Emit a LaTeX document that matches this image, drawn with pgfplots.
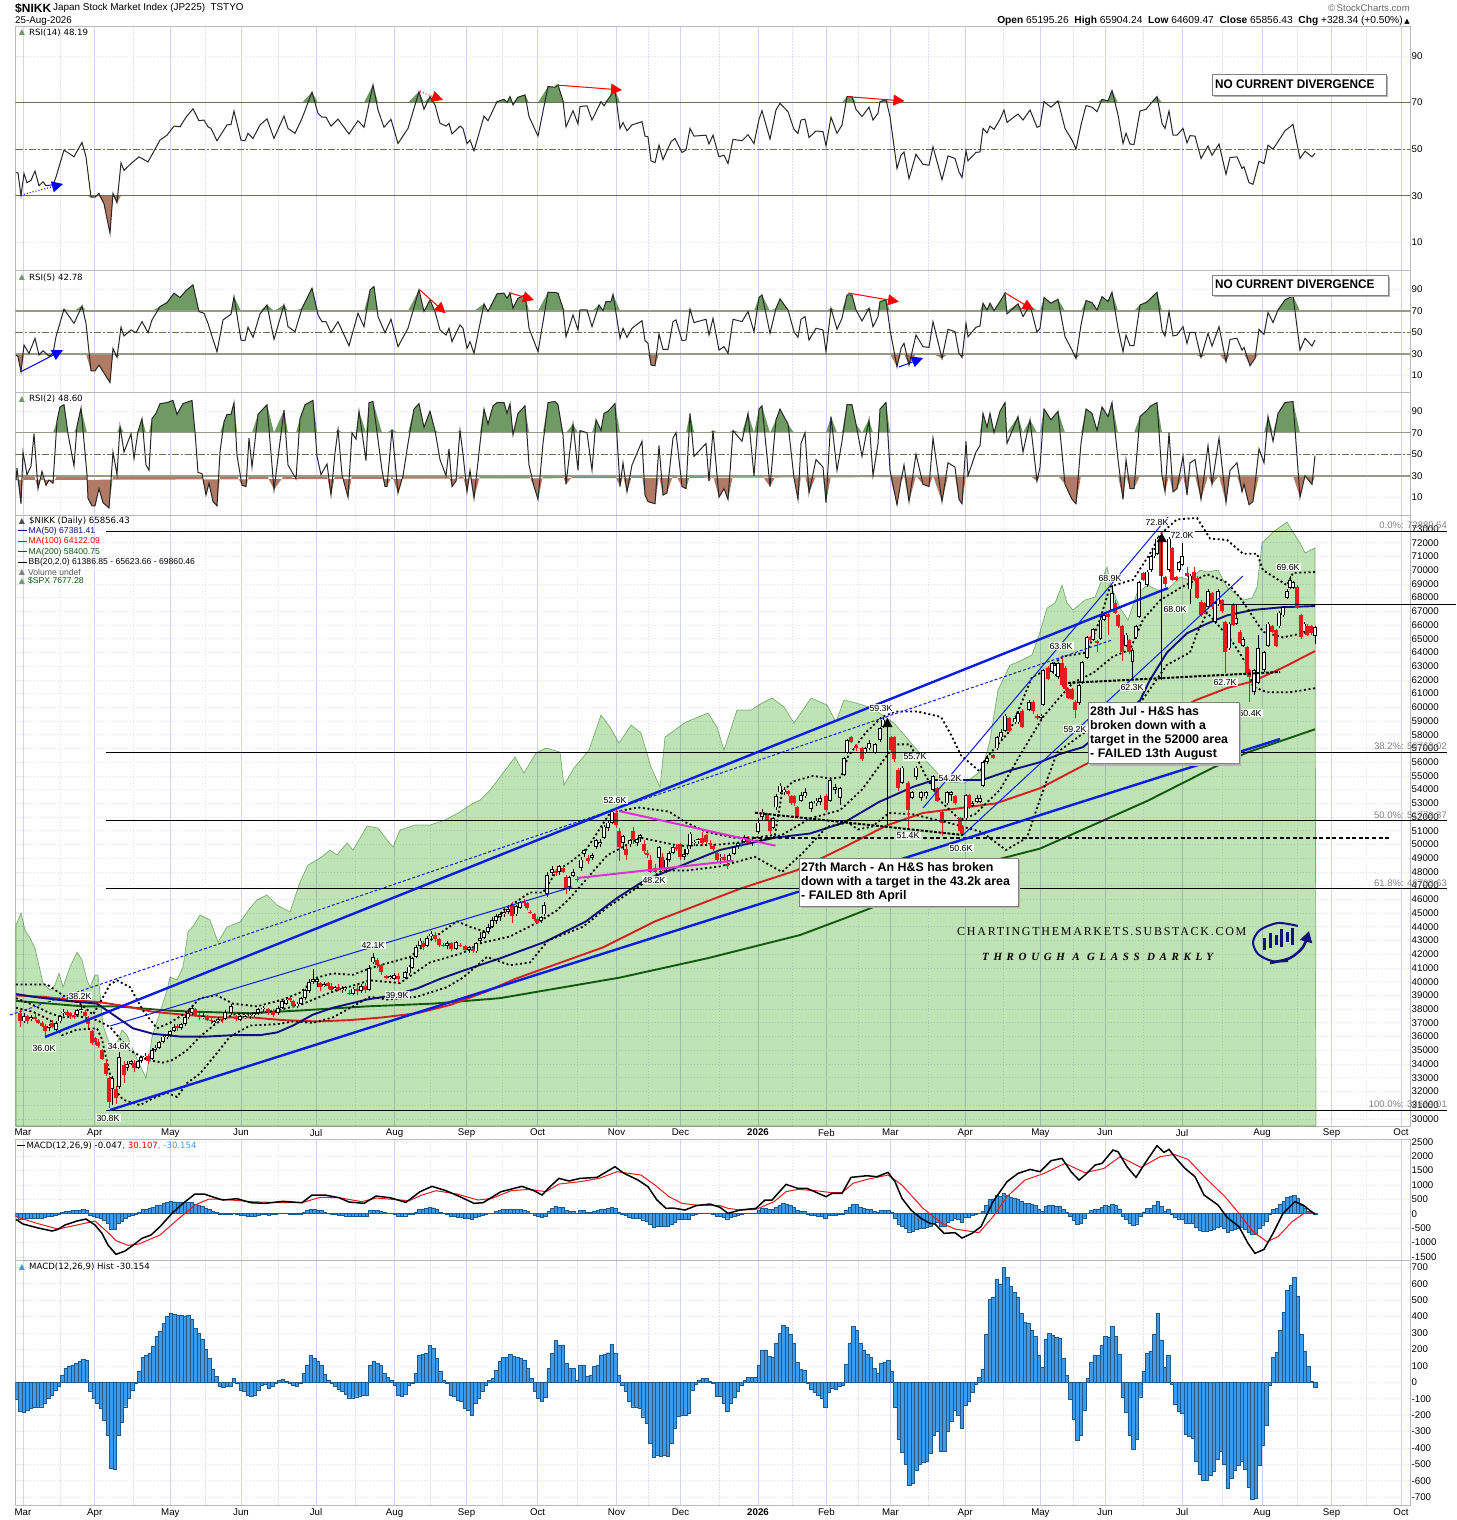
\documentclass[border=0pt]{standalone}
\usepackage{fontspec}
\setmainfont{Liberation Sans}
\newfontfamily\djv{DejaVu Sans}
\newfontfamily\serw{Liberation Serif}
\usepackage{pgfplots}
\pgfplotsset{compat=1.18}
\usepackage{pgfplotstable}
\usetikzlibrary{arrows.meta}
\definecolor{gridl}{HTML}{D2D2F6}
\definecolor{gridd}{HTML}{DEDEF4}
\definecolor{olv}{HTML}{6B7050}
\definecolor{rsig}{HTML}{6F9A63}
\definecolor{rsib}{HTML}{B07A65}
\definecolor{spx}{HTML}{BFE3B4}
\definecolor{spxe}{HTML}{8DBB88}
\definecolor{histb}{HTML}{3F9BE8}
\definecolor{histd}{HTML}{1A5A90}
\definecolor{tl}{HTML}{0A1EE0}
\definecolor{ma5}{HTML}{101080}
\definecolor{ma1}{HTML}{D62020}
\definecolor{ma2}{HTML}{0F5A0F}
\definecolor{cred}{HTML}{E8191C}
\definecolor{mag}{HTML}{E030D8}
\pgfplotsset{
 panel/.style={scale only axis,anchor=south west,xmin=15.5,xmax=1410.5,width=1395pt,
  axis line style={draw=gray!55,line width=.8pt},
  xtick={23,94.7,170.4,241,316,394.6,466.6,537.6,616.5,680.6,758,826.4,890.5,965.2,1040.4,1105,1182,1262,1331.5,1401},
  xticklabels={},
  minor xtick={60,133,205,278,355,430,502,577,648,719,792,858,928,1003,1073,1143,1222,1297,1366},
  xmajorgrids,xminorgrids,ymajorgrids,
  major x grid style={draw=gridl,line width=.9pt},
  minor x grid style={draw=gridd,line width=.7pt,dash pattern=on 1.2pt off 1.8pt},
  major y grid style={draw=gridd,line width=.7pt,dash pattern=on 1.2pt off 1.8pt},
  tick style={draw=none},minor tick style={draw=none},
  yticklabel pos=right,
  tick label style={font=\fontsize{9.7}{11}\selectfont,inner sep=0pt},
  yticklabel style={/pgf/number format/1000 sep={},/pgf/number format/assume math mode=true,anchor=west,xshift=1pt},
 },
 months/.style={xticklabels={Mar,Apr,May,Jun,Jul,Aug,Sep,Oct,Nov,Dec,\textbf{2026},Feb,Mar,Apr,May,Jun,Jul,Aug,Sep,Oct},
   xticklabel style={yshift=-3pt}},
 pxlay/.style={scale only axis,anchor=south west,at={(0pt,0pt)},width=1456pt,height=1520pt,
   xmin=0,xmax=1456,ymin=0,ymax=1520,y dir=reverse,hide axis,clip=false},
 rsiline/.style={draw=black!85,line width=1pt,no marks},
 bb/.style={draw=black,line width=1.8pt,dash pattern=on 2pt off 2.6pt,no marks},
 tlthick/.style={draw=tl,line width=2.4pt,no marks},
 tlthin/.style={draw=tl,line width=1pt,no marks},
 hl/.style={draw=black,line width=.9pt,no marks},
 bigarrow/.style={no marks,line width=1pt,-{Triangle[length=11pt,width=11pt]}},
}
\pgfplotstableread{
x v
16 40
18 39.8
21 30.1
24 39.5
27 35.6
31 36.6
35 40.6
39 34.3
43 36
46 34.3
53 34.7
56 38
64 49.6
74 46.7
82 52.9
86 46.7
91 29.4
95 29.4
99 31
104 26.5
110 13.9
113 31
117 27
121 44.1
124 40.9
131 43.8
139 46.7
148 44.5
160 53.9
167 56
174 59.9
180 59.6
186 63.7
193 67.3
199 62.2
204 62.5
208 59.6
211 58.9
217 53.6
227 60.4
231 60.6
234 66.4
241 53.9
245 53.6
248 56.8
253 54.6
260 60.4
267 63
274 54.6
284 64.2
288 58.9
295 56.8
302 63.2
312 74.5
318 65.4
322 63.7
326 63.7
331 59.9
338 62.9
349 56.5
358 62.2
364 59.4
373 77.6
378 66.8
384 59.4
391 62.8
398 52.4
408 58.9
419 74.7
424 67.1
430 72.6
435 69
440 61.1
446 59.9
449 61.1
452 56.5
460 59.9
463 58.9
467 52.4
470 53.9
474 49.3
484 64.2
488 62.2
497 70.4
504 71.4
507 70
510 72.6
513 69
518 72.3
525 73.3
529 64
538 55.6
548 76.9
555 76.6
558 77.6
563 70.7
566 59.6
573 66.5
578 60.8
580 68.3
587 68.6
592 62.5
601 70.4
604 68.6
608 71.4
615 75.5
620 58.9
623 61.4
627 57.9
632 60.4
642 61.8
645 55.6
648 55.3
651 45
655 44.2
659 51.7
663 45.5
671 53.2
675 54.6
682 48.6
686 49.6
690 58.9
694 55.6
706 56
709 52.2
713 56
719 46.7
724 47.4
728 43.8
733 54.2
742 53.6
748 56.2
754 52.4
759 62.8
762 66.5
770 54.3
776 66.8
780 69.7
788 66.1
794 58.5
798 56.8
801 62.5
805 62.9
809 55
816 57.8
823 57.5
826 51.4
831 63.7
837 56.8
842 60.4
847 72.6
852 72.6
856 67.1
862 64
869 68
873 62.5
878 65.4
880 70.4
886 71.2
890 64
897 41.7
901 47.4
904 48.8
909 37.3
916 47.8
923 43.5
929 43.1
933 51
942 36.9
948 47.1
955 46
959 40.2
962 37.8
966 49.3
968 45
976 48.6
980 48.8
983 58.9
987 57
990 59.9
994 58.5
1000 62.8
1004 66.8
1007 61.5
1018 65.1
1023 62.5
1030 66.8
1037 59.4
1040 59.9
1044 70.4
1051 68
1058 70.7
1065 58.9
1072 53.9
1076 50
1081 60.4
1086 68.7
1092 68
1097 66.1
1102 71.4
1108 70.7
1112 75.2
1118 64.7
1123 52.4
1126 56.8
1130 52.2
1134 52
1140 66.4
1146 67.1
1151 69.7
1157 72.6
1162 61.1
1165 58.9
1169 66.4
1173 56
1177 56
1183 58.9
1187 52.7
1190 55.8
1195 55.6
1201 46
1208 51.4
1212 47.4
1219 52.2
1226 39.2
1230 46.4
1237 46.7
1242 41.7
1244 42.4
1249 35.6
1253 34.9
1259 44.8
1264 43.8
1268 51.7
1273 50
1278 53.2
1285 57.9
1293 60.6
1300 46
1305 49.1
1312 46.7
1315 48.2
}\rsiA
\pgfplotstableread{
x v
16 28.8
18 27.2
21 13.1
24 38.1
29 30.3
35 44.4
39 28.8
43 32.8
49 27.8
53 30.3
56 45.9
64 71.6
74 58.4
82 74.7
86 58.4
91 14
95 14
99 19.4
110 3.1
113 35
117 26.6
121 54.7
124 46.6
131 52.2
136 49.7
142 60
148 49.7
152 61.6
160 74.1
167 77.8
174 86.6
180 82.5
186 89
193 94.4
199 69.4
204 67.8
208 58.4
211 49.1
217 31.9
223 61.6
231 66.9
234 83.4
241 42.8
245 42.2
248 54.7
253 45.3
260 67.2
267 75.6
274 43.4
284 75.6
288 55.3
295 50.6
302 72.5
312 91.3
318 66.3
322 60
326 60
331 49.7
338 60
349 37.5
358 67.8
364 55.3
370 89.7
374 92.8
378 64.7
385 49.7
391 62.2
398 36.6
408 53.8
419 89.7
424 69.4
430 80.3
435 69.4
440 52.2
446 47.5
449 53.8
452 41.3
460 56.9
463 53.8
467 35
470 41.3
474 30.3
484 76.6
488 69.4
497 86
504 86.6
507 81.9
510 86.6
513 72.5
518 81.9
525 85
529 53.8
538 31.9
548 87.5
555 87.2
558 86.6
563 72.5
566 45.9
573 66.3
578 52.2
580 70.9
587 70.9
592 55.3
599 75.6
603 70.3
606 78.8
611 78.8
613 85.5
620 44.4
623 53.8
627 45.3
632 53.8
642 60.9
645 42.2
648 39.7
651 19.4
655 18.8
659 48.5
663 34.1
668 34.1
673 60
676 61.6
682 42.2
686 42.8
690 71.6
694 59.1
706 62.2
709 47.5
713 63.1
719 33.4
724 36.6
728 30.3
733 62.2
742 60
748 69.4
754 50.6
759 82.5
762 85
770 49.1
776 72.5
780 81.2
788 70.9
794 50.6
798 45.3
801 62.2
805 64.7
809 42.8
816 53.8
823 52.2
826 31.9
831 72.5
837 52.8
842 63.1
847 85
852 85
856 70.9
862 60.6
869 72.5
873 55.3
878 64.7
880 78.8
886 80.3
890 52.2
897 17.8
901 35
904 39.7
909 19.4
916 47.5
923 36.6
929 35.9
933 60
942 25.6
948 52.8
955 50.6
959 30.3
962 26.6
966 58.4
968 45.9
976 54.7
980 55.9
983 77.2
987 70.9
990 77.2
994 70.3
1000 78.8
1005 86.6
1007 67.2
1018 76.6
1023 64.7
1030 75.6
1037 50
1040 53.8
1044 82.5
1051 77.2
1058 80.9
1065 45.9
1072 33.4
1076 25.6
1081 56.9
1086 79.7
1092 77.8
1097 70.9
1102 83.4
1108 78.8
1112 87.5
1118 53.8
1123 31.9
1126 47.5
1130 37.5
1134 37.5
1140 75.6
1146 77.8
1151 81.9
1157 87.5
1162 52.2
1165 46.6
1169 69.4
1173 46.6
1177 47.5
1183 55.3
1187 39.7
1190 50
1195 50
1201 26.6
1208 49.1
1212 37.2
1219 55.3
1226 22.5
1230 43.4
1237 44.4
1242 33.4
1244 35.9
1250 18.8
1255 25.6
1259 52.8
1264 48.1
1268 68.4
1273 59.1
1278 70.9
1285 80.3
1293 84.1
1300 33.4
1305 44.4
1312 37.2
1315 42.8
}\rsiB
\pgfplotstableread{
x v
16 26
17 37
21 4
23 52
27 31
31 39
34 69
38 18
42 34
46 21
49 26
53 23
57 81
60 94
64 96
68 69
74 39
77 76
81 93
87 31
88 9
92 2
95 2
99 18
103 5
109 0
113 52
117 31
120 76
124 52
131 69
134 46
138 71
142 83
146 40
149 35
152 83
156 88
160 97
167 98
173 100
177 87
183 97
192 100
195 71
198 33
202 32
206 12
209 23
213 6
217 2
220 52
224 80
227 87
231 87
234 98
237 49
242 21
246 20
249 65
252 38
258 87
267 96
274 17
284 91
288 40
296 27
300 83
305 96
313 100
317 48
321 31
327 41
331 12
335 51
338 73
342 31
348 10
352 70
356 64
359 90
366 44
369 98
373 99
382 35
385 20
387 20
392 73
398 14
403 30
408 60
414 92
419 97
424 75
430 90
435 72
440 45
446 30
449 55
452 20
456 25
460 72
463 50
467 15
470 35
474 9
480 60
484 92
488 78
493 95
497 98
504 98
507 88
510 97
513 68
518 88
525 95
529 40
534 20
538 8
543 60
548 98
555 99
558 96
563 68
566 22
573 78
578 35
580 72
587 70
592 35
596 82
601 72
604 88
608 90
615 97
620 20
623 42
627 15
632 40
642 62
645 12
648 6
651 5
655 4
659 58
663 12
667 14
673 65
676 70
682 20
686 18
690 88
694 48
706 60
709 25
713 72
719 10
724 18
728 8
733 72
742 62
748 88
754 30
759 92
762 95
770 20
776 82
780 92
788 78
794 28
798 8
801 60
805 70
809 14
816 45
823 38
826 5
831 85
837 35
842 62
847 96
852 96
856 78
862 48
869 82
873 30
878 60
880 92
886 98
890 35
897 3
901 25
904 40
909 6
916 50
923 22
929 20
933 65
942 6
948 42
955 38
959 8
962 4
966 62
968 30
976 52
980 58
983 88
987 75
990 88
994 70
1000 90
1005 98
1007 60
1018 85
1023 52
1030 82
1037 25
1040 38
1044 92
1051 82
1058 90
1065 22
1072 8
1076 4
1081 60
1086 92
1092 88
1097 72
1102 94
1108 85
1112 98
1118 45
1123 8
1126 45
1130 18
1134 18
1140 85
1146 90
1151 95
1157 98
1162 30
1165 15
1169 70
1173 15
1177 18
1183 48
1187 12
1190 42
1195 45
1201 8
1208 58
1212 22
1219 65
1226 5
1230 35
1237 42
1242 15
1244 22
1249 3
1253 6
1259 55
1264 42
1268 85
1273 62
1278 88
1285 98
1293 99
1300 10
1305 30
1312 22
1315 48.6
}\rsiC
\pgfplotstableread{
x o h l c
20 37.7 37.9 36.7 37.1
24 37.1 37.7 37.0 37.5
27 37.5 37.6 36.9 37.1
31 37.3 37.6 37.1 37.4
35 37.4 37.7 37.1 37.3
38 37.2 37.3 36.9 37.0
42 37.0 37.1 36.7 36.8
45 36.8 36.9 36.0 36.4
49 36.6 36.9 36.4 36.8
52 37.0 37.2 36.6 36.7
56 36.5 37.1 36.4 37.0
60 37.1 37.6 37.0 37.5
63 37.7 38.0 37.5 37.8
67 37.8 37.9 37.4 37.6
70 37.7 37.8 37.3 37.5
74 37.5 37.8 37.3 37.4
77 37.6 38.0 37.5 37.9
81 37.9 38.3 37.7 38.0
85 37.8 37.9 37.2 37.5
88 37.3 37.5 36.6 36.9
92 36.4 36.5 35.4 35.5
95 35.9 36.0 35.4 35.6
98 35.6 35.8 35.2 35.3
102 35.0 35.1 34.3 34.4
106 34.1 34.4 33.1 33.3
109 33.0 33.1 30.8 31.2
112 32.2 33.1 31.0 33.0
116 32.2 32.4 31.1 31.5
119 32.3 34.9 32.2 34.5
124 33.9 34.2 32.6 33.2
127 33.7 34.2 33.5 34.0
131 34.0 34.3 33.9 34.2
134 34.1 34.3 33.4 33.7
138 33.7 34.3 33.6 34.2
141 34.2 34.6 34.1 34.5
145 34.5 34.8 34.3 34.6
148 34.6 34.7 34.0 34.2
152 34.4 35.2 34.3 35.0
155 35.0 35.4 34.9 35.2
159 35.2 35.7 35.1 35.6
163 35.6 36.1 35.5 36.0
167 36.0 36.2 35.8 36.1
170 36.1 36.5 36.0 36.4
174 36.4 36.9 36.3 36.7
177 36.8 36.9 36.4 36.6
181 36.6 37.0 36.5 36.9
185 36.9 37.6 36.8 37.4
188 37.4 37.9 37.3 37.7
192 37.7 38.3 37.6 38.1
195 38.0 38.1 37.4 37.6
199 37.5 37.7 37.2 37.4
203 37.4 37.7 37.3 37.5
207 37.5 37.6 37.1 37.2
211 37.2 37.4 36.9 37.1
214 37.0 37.2 36.9 37.1
218 37.1 37.4 37.0 37.3
222 37.3 37.4 37.0 37.2
225 37.3 37.9 37.2 37.8
231 37.7 38.4 37.6 38.2
236 37.4 37.6 37.1 37.3
240 37.2 37.6 37.1 37.5
245 37.4 37.6 37.3 37.5
250 37.5 37.7 37.3 37.6
254 37.6 37.8 37.4 37.7
258 37.7 38.1 37.6 38.0
263 38.0 38.2 37.8 38.1
268 38.0 38.1 37.6 37.8
273 37.8 38.0 37.4 37.6
278 37.7 38.2 37.6 38.1
282 38.1 38.7 38.0 38.6
286 38.4 38.9 38.3 38.7
290 38.8 38.9 38.5 38.7
293 38.6 38.7 38.1 38.2
297 38.2 38.5 38.1 38.4
301 38.4 38.9 38.3 38.8
305 38.8 39.5 38.7 39.4
309 39.3 40.2 39.2 40.0
313 40.0 40.9 39.8 40.2
317 40.0 40.3 39.6 40.2
320 39.9 40.0 39.3 39.6
324 39.7 40.0 39.6 39.8
328 39.9 40.0 39.5 39.7
331 39.7 39.9 39.3 39.4
335 39.5 39.7 39.3 39.6
338 39.6 39.8 39.3 39.4
342 39.4 39.7 39.2 39.5
345 39.5 39.7 39.3 39.6
349 39.2 39.4 39.0 39.1
353 39.1 39.6 39.0 39.5
357 39.5 39.8 39.0 39.3
361 39.3 39.8 39.2 39.7
365 39.7 39.9 39.2 39.4
369 39.4 41.2 39.3 41.0
373 41.4 42.1 41.3 41.8
377 41.6 41.7 41.0 41.2
381 41.2 41.3 40.5 40.7
386 40.4 40.5 40.2 40.3
390 40.3 40.5 40.2 40.4
394 40.2 40.6 40.1 40.5
398 40.4 40.6 39.9 40.2
405 40.3 40.8 40.2 40.7
409 40.6 41.2 40.5 41.1
412 41.0 41.8 40.9 41.7
416 41.8 42.7 41.7 42.5
420 42.6 43.2 42.5 43.0
423 42.8 43.0 42.3 42.5
427 42.6 43.3 42.5 43.2
431 43.3 43.7 43.0 43.5
435 43.4 43.6 42.9 43.1
439 43.1 43.2 42.5 42.7
443 42.7 42.8 42.5 42.6
447 42.6 43.0 42.4 42.8
451 42.8 42.9 42.2 42.4
456 42.4 43.0 42.3 42.9
460 42.7 42.8 42.5 42.6
465 42.6 42.7 42.2 42.3
469 42.3 42.6 42.1 42.5
473 42.4 42.6 42.1 42.2
476 42.2 42.9 42.1 42.8
480 43.0 43.6 42.9 43.2
484 43.2 43.7 43.1 43.6
488 43.6 44.2 43.5 44.0
492 44.0 44.7 43.9 44.5
496 44.4 44.9 44.2 44.8
500 44.7 45.0 44.4 44.9
504 44.9 45.2 44.7 45.1
508 45.1 45.6 44.9 45.3
512 45.6 45.8 44.3 44.8
516 44.9 45.6 44.8 45.5
520 45.4 45.9 45.3 45.8
524 45.8 46.0 45.5 45.7
527 45.7 45.8 45.2 45.4
530 45.1 45.2 44.9 45.0
534 44.9 45.0 44.4 44.6
537 44.6 44.7 44.2 44.3
541 44.4 44.8 44.3 44.7
544 44.9 45.8 44.8 45.6
547 46.4 48.0 46.2 47.8
552 47.9 48.4 47.7 48.2
556 48.1 48.2 47.7 47.9
559 48.0 48.5 47.8 48.4
563 48.3 48.4 47.9 48.0
566 47.6 47.8 46.4 46.8
569 46.9 47.7 46.6 47.6
573 47.7 48.2 47.6 48.0
577 47.5 47.7 47.3 47.4
581 48.3 49.1 48.1 48.9
584 49.3 49.7 49.1 49.6
588 49.0 49.2 48.6 48.8
592 49.0 49.4 48.9 49.2
596 49.8 50.4 49.7 50.3
600 50.0 50.4 49.8 50.2
604 50.5 51.4 50.4 51.3
608 51.2 51.8 51.0 51.6
612 51.6 52.6 51.5 52.4
616 52.3 52.5 51.2 51.4
619 51.0 51.2 48.8 49.8
623 50.1 50.7 49.6 50.6
626 49.7 49.9 48.9 49.2
630 50.0 50.4 49.8 50.3
633 51.0 51.3 50.0 50.3
637 50.1 50.5 49.9 50.4
640 50.5 50.8 50.2 50.7
644 50.0 50.3 49.3 49.5
647 49.4 49.6 49.0 49.2
650 48.9 49.2 47.9 48.0
655 48.3 48.6 47.9 48.0
659 49.0 49.9 48.2 49.8
662 49.1 49.4 48.1 48.3
666 48.2 49.0 47.9 48.9
669 48.9 49.5 48.7 49.4
673 49.4 50.0 49.3 49.8
676 49.8 50.0 49.5 49.7
680 50.0 50.1 48.9 49.1
684 49.1 49.7 48.9 49.3
687 49.3 49.9 49.2 49.7
690 49.9 50.9 49.7 50.8
694 50.1 50.3 49.9 50.2
698 50.3 50.5 50.0 50.4
702 50.5 50.9 49.9 50.1
706 50.7 50.8 50.0 50.2
710 50.1 50.3 49.7 50.0
713 49.9 50.0 49.5 49.7
717 49.4 49.5 48.7 48.9
720 49.0 49.3 48.6 49.1
724 49.1 49.3 48.7 48.9
727 48.6 48.7 48.2 48.4
729 48.8 49.4 48.7 49.2
734 49.3 49.9 49.2 49.8
738 49.9 50.2 49.7 50.1
741 50.1 50.3 49.8 50.0
744 50.2 50.7 50.1 50.5
748 50.5 50.6 50.1 50.2
752 50.2 50.4 49.9 50.3
758 50.9 51.9 50.8 51.6
762 52.0 52.6 51.8 52.4
767 52.2 52.3 51.7 51.8
770 51.8 51.9 50.8 51.0
773 51.2 52.0 51.1 51.9
776 52.7 53.7 52.5 53.5
780 53.8 54.5 53.7 54.3
784 53.8 54.2 53.6 54.0
788 53.9 54.0 53.5 53.7
791 53.5 53.6 52.9 53.0
794 53.5 53.6 52.8 53.0
797 52.7 52.8 51.9 52.0
801 53.2 53.8 53.1 53.6
805 53.5 54.1 53.4 53.8
811 52.6 53.2 52.4 53.1
816 53.0 53.4 52.8 53.2
820 53.1 53.6 52.9 53.4
826 53.5 53.7 52.4 52.5
830 53.2 54.9 53.1 54.7
835 54.0 54.4 53.7 54.2
840 53.4 54.2 52.9 54.1
844 55.1 56.4 55.0 56.3
847 56.7 57.7 56.6 57.6
851 57.8 57.9 57.4 57.5
856 57.2 57.3 56.8 57.0
862 57.0 57.1 56.1 56.2
865 56.7 57.1 56.6 57.0
869 57.0 57.6 56.9 57.4
875 56.7 57.4 56.6 57.3
880 57.6 58.6 57.5 58.5
883 58.6 59.3 58.5 59.1
891 57.8 57.9 56.7 56.9
894 57.8 57.9 56.0 56.2
898 55.4 55.6 53.9 54.1
902 54.5 55.7 54.4 55.6
908 54.5 54.6 51.1 52.5
912 53.4 53.9 53.3 53.8
916 54.9 55.7 54.7 55.6
921 53.4 53.9 53.2 53.8
926 53.5 53.9 53.3 53.8
933 54.0 55.1 53.9 55.0
937 54.1 54.2 53.1 53.2
942 52.4 52.5 50.6 51.6
947 53.0 53.9 52.9 53.8
951 53.6 53.9 53.2 53.8
955 53.5 53.6 52.9 53.0
960 51.9 52.0 50.9 51.0
962 51.3 51.4 50.6 50.8
966 51.9 53.7 51.8 53.6
969 53.6 53.7 52.6 52.7
972 52.8 53.2 52.7 53.0
977 53.1 53.6 53.0 53.4
980 53.1 53.6 53.0 53.4
983 54.3 56.1 54.2 56.0
987 56.0 56.5 55.9 56.3
993 56.5 56.6 56.2 56.3
997 57.0 57.9 56.9 57.8
1001 57.8 58.4 57.7 58.2
1005 58.3 59.5 58.2 59.4
1009 59.2 59.3 58.2 58.3
1015 58.9 59.3 58.8 59.2
1018 58.9 59.7 58.8 59.6
1022 59.7 59.9 58.5 58.6
1029 59.8 60.5 59.7 60.4
1033 60.4 60.5 59.5 59.7
1037 59.4 59.5 59.1 59.2
1041 59.2 59.5 59.1 59.4
1043 60.2 62.8 60.1 62.7
1048 62.9 63.0 62.0 62.1
1052 62.6 63.3 62.5 63.2
1055 62.4 63.2 62.3 63.1
1058 62.2 63.3 62.1 63.2
1062 63.2 63.8 61.5 61.6
1065 62.9 63.0 61.2 61.3
1068 61.3 61.4 60.6 60.7
1072 61.3 61.4 60.5 60.6
1075 60.4 60.5 59.2 59.8
1079 60.3 61.7 60.2 61.6
1082 61.8 63.4 61.7 63.3
1087 63.6 65.2 63.5 65.1
1090 65.1 65.2 64.8 64.9
1093 64.9 65.8 64.8 65.7
1097 64.8 64.9 64.0 64.7
1100.6 65.0 66.5 64.9 66.4
1104 66.4 66.9 66.3 66.7
1108 66.8 66.9 65.3 66.6
1112 67.1 68.9 67.0 68.3
1115 67.6 67.8 66.8 66.9
1118 66.7 66.8 65.8 65.9
1122 65.9 66.0 63.4 64.0
1126 64.5 65.4 64.4 65.3
1129 64.9 65.0 63.9 64.0
1132.6 63.3 64.3 62.0 64.2
1136 65.1 66.0 65.0 65.9
1139 66.6 69.2 66.5 69.1
1143 69.8 69.9 69.2 69.3
1147 68.9 70.0 68.8 69.9
1151 70.0 71.1 69.9 71.0
1154 71.0 71.6 70.9 71.5
1157 71.2 72.4 71.1 72.3
1161 72.2 72.8 69.3 69.6
1165 69.5 69.6 68.8 69.0
1169 70.0 72.4 69.9 72.3
1172 71.6 71.7 69.2 69.3
1176 69.5 69.6 69.2 69.3
1179 70.0 70.7 69.9 70.6
1182 70.4 72.0 70.3 71.0
1187 69.8 70.2 69.5 69.6
1190 68.6 69.7 67.5 69.6
1194 69.9 70.2 69.2 69.3
1197 69.4 69.6 67.9 68.0
1201 67.7 67.8 66.6 66.7
1204 67.6 67.7 66.8 66.9
1208 67.3 68.6 67.2 68.5
1212 68.3 68.4 67.2 67.3
1215 66.2 67.7 66.1 67.6
1218 67.5 68.6 67.4 68.5
1222 67.8 67.9 66.9 67.0
1225 66.2 66.3 62.5 64.0
1229 64.3 66.2 64.2 66.1
1233 67.5 67.6 65.9 66.0
1236 66.1 67.5 66.0 66.5
1240 65.5 65.6 64.6 64.7
1243 64.5 65.1 64.4 65.0
1247 64.4 64.5 62.4 62.5
1249 62.7 62.8 60.4 62.2
1254 61.1 62.8 60.9 62.7
1258 61.8 65.3 61.7 64.3
1264 62.7 64.1 62.6 64.0
1268 64.5 66.2 64.4 66.1
1272 65.9 66.0 65.4 65.5
1276 65.6 65.7 64.4 64.5
1279 65.9 67.0 65.8 66.9
1283 66.7 67.4 66.6 67.3
1287 68.0 68.6 67.9 68.5
1290 68.7 69.6 68.6 69.3
1293 68.7 69.2 68.6 69.1
1297 68.8 68.9 67.2 67.3
1301 66.7 66.8 65.0 65.1
1304 65.5 66.2 65.4 66.1
1307 65.9 66.1 65.2 65.3
1311 65.9 66.0 65.3 65.4
1315 65.2 65.9 64.6 65.86
}\candles
\pgfplotstableread[header=false]{
-104
-175
-181
-170
-160
-153
-153
-149
-128
-100
-77
-50
-26
45
85
100
106
115
126
140
136
-57
-100
-128
-159
-230
-321
-525
-531
-325
-246
-149
-100
-47
-6
65
153
167
177
218
279
309
360
401
419
415
407
411
405
411
385
330
300
265
200
147
81
35
-26
-30
-26
-26
24
-6
-47
-57
-77
-83
-77
-47
-16
-14
-37
-26
-6
10
18
8
-6
-20
-26
-6
55
106
163
147
130
106
51
14
-6
-26
-45
-57
-70
-94
-94
-88
-82
-80
-77
106
130
115
102
55
30
14
-16
-77
-83
-70
-20
-5
55
167
170
177
224
208
147
65
10
-6
-77
-83
-108
-118
-159
-173
-199
-128
-100
-57
-16
10
24
75
126
153
153
171
157
151
147
136
85
24
-57
-98
-118
-90
85
177
254
228
228
116
85
85
14
106
106
35
45
96
106
167
170
180
232
177
45
-16
-57
-118
-149
-153
-160
-210
-250
-372
-458
-444
-450
-444
-450
-372
-281
-205
-203
-199
-190
-51
-10
14
24
24
4
-6
-87
-87
-128
-175
-130
-90
-57
-20
10
31
28
30
106
193
198
160
150
238
300
350
335
290
240
120
78
71
-6
-40
-60
-80
-100
-153
-60
-37
-40
-25
-16
112
240
340
315
240
197
170
150
85
55
116
125
136
65
-150
-348
-429
-500
-627
-617
-535
-500
-490
-480
-433
-320
-301
-419
-419
-301
-240
-170
-200
-281
-138
-115
-60
-10
30
79
295
507
520
625
600
702
640
588
549
520
421
364
358
320
279
167
90
260
299
285
272
269
147
41
-104
-226
-352
-320
-169
24
122
167
165
224
279
275
344
279
173
-92
-185
-322
-409
-348
-88
65
177
190
295
421
258
92
163
-10
-132
-175
-189
-315
-330
-338
-480
-560
-596
-596
-566
-540
-470
-419
-500
-643
-586
-535
-505
-480
-530
-640
-714
-708
-505
-383
-260
-16
150
181
320
425
560
594
641
527
295
187
96
4
-30
}\hist
\newcommand\lbl[3]{\node[fill=white,fill opacity=.85,text opacity=1,inner sep=1pt,font=\fontsize{8.8}{10}\selectfont] at (axis cs:#1,#2) {#3};}
\newcommand\fib[2]{\node[anchor=east,inner sep=0pt,text=gray,font=\fontsize{9.5}{11}\selectfont] at (axis cs:1447,#1) {#2};}
\newcommand\ttl[3]{\node[anchor=west,inner sep=0pt,font=\djv\fontsize{8.6}{10}\selectfont] at (axis cs:#1,#2) {#3};}
\newcommand\ico[3]{\node[inner sep=0pt,text=#3,font=\djv\fontsize{8}{9}\selectfont] at (axis cs:#1,#2) {▲};}
\begin{document}
\begin{tikzpicture}
\path[use as bounding box] (0,0) rectangle (1456pt,1520pt);
% ---------- RSI 14
\begin{axis}[panel,at={(15.5pt,1249.3pt)},height=244pt,ymin=-2.2,ymax=102.6,ytick={10,30,50,70,90}]
\addplot[fill=rsig,draw=none,no marks,restrict y to domain*=70:200] table[x=x,y=v]{\rsiA};
\addplot[fill=rsib,draw=none,no marks,restrict y to domain*=-20:30] table[x=x,y=v]{\rsiA};
\addplot[olv,line width=1.5pt,no marks] coordinates {(15.5,70)(1410.5,70)};
\addplot[olv,line width=1.5pt,no marks] coordinates {(15.5,30)(1410.5,30)};
\addplot[olv,line width=1pt,no marks,dash pattern=on 7pt off 2pt on 2pt off 2pt] coordinates {(15.5,50)(1410.5,50)};
\addplot[rsiline] table[x=x,y=v]{\rsiA};
\end{axis}
% ---------- RSI 5
\begin{axis}[panel,at={(15.5pt,1127.3pt)},height=122pt,ymin=-6.4,ymax=107.6,ytick={10,30,50,70,90}]
\addplot[fill=rsig,draw=none,no marks,restrict y to domain*=70:200] table[x=x,y=v]{\rsiB};
\addplot[fill=rsib,draw=none,no marks,restrict y to domain*=-20:30] table[x=x,y=v]{\rsiB};
\addplot[olv!70,line width=1.6pt,no marks] coordinates {(15.5,70)(1410.5,70)};
\addplot[olv!70,line width=1.6pt,no marks] coordinates {(15.5,30)(1410.5,30)};
\addplot[olv,line width=1pt,no marks,dash pattern=on 7pt off 2pt on 2pt off 2pt] coordinates {(15.5,50)(1410.5,50)};
\addplot[rsiline] table[x=x,y=v]{\rsiB};
\end{axis}
% ---------- RSI 2
\begin{axis}[panel,at={(15.5pt,1005pt)},height=122.3pt,ymin=-6.5,ymax=107.2,ytick={10,30,50,70,90}]
\addplot[fill=rsig,draw=none,no marks,restrict y to domain*=70:200] table[x=x,y=v]{\rsiC};
\addplot[fill=rsib,draw=none,no marks,restrict y to domain*=-20:30] table[x=x,y=v]{\rsiC};
\addplot[olv!70,line width=1.6pt,no marks] coordinates {(15.5,70)(1410.5,70)};
\addplot[olv!70,line width=1.6pt,no marks] coordinates {(15.5,30)(1410.5,30)};
\addplot[olv,line width=1pt,no marks,dash pattern=on 7pt off 2pt on 2pt off 2pt] coordinates {(15.5,50)(1410.5,50)};
\addplot[rsiline] table[x=x,y=v]{\rsiC};
\end{axis}
% ---------- MAIN frame and scale
\begin{axis}[panel,months,at={(15.5pt,394pt)},height=611pt,ymin=29.48,ymax=74.02,
  ytick={30,31,...,73},yticklabels={30000,31000,32000,33000,34000,35000,36000,37000,38000,39000,40000,41000,42000,43000,44000,45000,46000,47000,48000,49000,50000,51000,52000,53000,54000,55000,56000,57000,58000,59000,60000,61000,62000,63000,64000,65000,66000,67000,68000,69000,70000,71000,72000,73000}]
\addplot[draw=none,no marks,forget plot] coordinates {(100,40)};
\end{axis}
% ---------- SPX overlay
\begin{axis}[pxlay]
\addplot[fill=spx,draw=spxe,line width=.7pt,no marks,blend mode=multiply] coordinates {
(16,925)(21,913)(25,930)(30,938)(35,948)(43,983)(50,990)(55,985)(59,973)(63,987)(70,967)(77,952)(82,960)(87,980)(90,987)(95,975)(98,975)(100,993)(103,1025)(107,1037)(112,1050)(117,1043)(122,1030)(127,1035)(133,1050)(140,1065)(146,1078)(152,1037)(160,1012)(167,990)(170,977)(177,980)(183,967)(188,932)(194,925)(200,915)(210,920)(218,942)(227,927)(240,922)(250,908)(257,900)(267,895)(277,905)(290,912)(300,882)(308,865)(320,858)(330,850)(337,855)(347,843)(353,850)(363,833)(367,826)(378,828)(387,840)(393,847)(400,830)(415,825)(430,825)(445,820)(460,812)(470,805)(480,800)(490,790)(500,777)(515,757)(524,773)(536,753)(546,748)(560,752)(564,785)(574,768)(589,750)(601,715)(610,727)(619,743)(631,725)(641,733)(651,767)(660,787)(665,737)(686,722)(708,713)(717,727)(724,750)(737,710)(751,710)(762,703)(772,698)(784,707)(794,723)(811,698)(827,705)(836,722)(844,700)(856,703)(872,708)(894,723)(906,737)(917,750)(930,765)(941,777)(948,782)(965,783)(982,770)(990,740)(998,690)(1010,665)(1018,662)(1032,655)(1040,632)(1047,608)(1055,603)(1062,585)(1067,603)(1073,610)(1085,600)(1095,597)(1107,567)(1112,588)(1120,608)(1128,620)(1137,593)(1148,585)(1157,590)(1167,590)(1180,577)(1190,580)(1200,570)(1207,572)(1218,570)(1227,587)(1243,600)(1252,598)(1257,587)(1262,543)(1273,532)(1287,522)(1293,532)(1300,543)(1305,553)(1315,548)(1316,1126)(16,1126)} --cycle;
\end{axis}
% ---------- Price series
\begin{axis}[scale only axis,anchor=south west,at={(15.5pt,394pt)},width=1395pt,height=611pt,
  xmin=15.5,xmax=1410.5,ymin=29.48,ymax=74.02,hide axis]
\addplot[ma2,line width=1.9pt,no marks] coordinates {(16,38.6)(50,38.4)(83,38.2)(117,38.2)(167,37.9)(200,37.8)(250,37.7)(300,37.9)(367,38.2)(433,38.4)(500,38.8)(620,40.3)(707,41.7)(800,43.4)(844,44.6)(872,45.4)(965,48.3)(1040,49.7)(1148,53.2)(1213,55.6)(1247,56.7)(1315,58.4)};
\addplot[ma1,line width=1.9pt,no marks] coordinates {(16,39)(43,38.9)(67,38.7)(100,38.5)(127,38.2)(153,37.8)(183,37.6)(217,37.4)(250,37.4)(283,37.2)(317,37.1)(350,37.2)(383,37.4)(417,37.7)(450,38.3)(487,39.3)(515,40.2)(603,42.5)(655,44.4)(741,46.8)(796,48.1)(844,49.8)(887,51.4)(923,52.3)(965,52.7)(996,53)(1040,54.1)(1087,55.9)(1195,60.5)(1227,61.4)(1253,61.9)(1283,62.9)(1315,64.1)};
\addplot[ma5,line width=1.9pt,no marks] coordinates {(16,39.1)(33,38.9)(67,38.6)(97,38.4)(113,37.6)(133,36.6)(153,36.2)(180,36)(207,36)(233,36.1)(260,36.1)(277,36.3)(293,36.8)(313,37.6)(333,38.1)(367,38.7)(393,39)(417,39.5)(440,40.2)(467,40.9)(500,41.7)(545,42.9)(586,44.4)(617,46.1)(645,47.4)(720,49.6)(775,50.5)(810,50.8)(844,51.6)(879,53.1)(913,54.2)(934,54.7)(965,54.7)(982,54.7)(1010,55.4)(1040,56)(1060,56.6)(1083,57.1)(1140,60.5)(1150,62)(1167,64)(1187,65.4)(1207,66.1)(1227,66.7)(1253,67.1)(1283,67.3)(1315,67.38)};
\addplot[bb] coordinates {(16,39.8)(47,39.8)(63,39)(80,38.4)(93,37.6)(101,38.6)(110,39.8)(117,40.1)(130,39.6)(143,37.9)(157,36.6)(170,37)(187,37.8)(200,38.8)(217,39)(233,38.4)(257,38.2)(283,38.7)(300,39.2)(317,40.3)(333,40.6)(353,40.5)(367,40.9)(380,41.2)(410,41.8)(430,43)(457,44.4)(470,44)(487,43.6)(503,45.2)(530,46.5)(543,46.5)(557,48.1)(570,48.7)(586,49.6)(610,52.3)(638,52.7)(669,52.4)(686,51.6)(707,50.9)(734,50.5)(755,50.5)(775,50.7)(782,53.8)(793,54.6)(813,55)(831,54.8)(841,54.9)(848,56.4)(865,58.1)(882,59.3)(896,59.7)(917,59.7)(941,59.3)(951,58)(961,56.5)(980,55.3)(985,56.2)(1010,58.3)(1032,62.2)(1043,62.6)(1063,63.7)(1087,64)(1100,66.4)(1110,68.8)(1133,69.3)(1150,71.2)(1160,72.6)(1177,73.7)(1197,73.8)(1210,72.3)(1227,72.2)(1243,71.2)(1257,71.2)(1263,70)(1287,68.9)(1293,69.8)(1315,69.86)};
\addplot[bb] coordinates {(16,38.8)(33,38.3)(50,37.7)(63,37.4)(77,37.5)(97,37.2)(110,36.7)(130,35)(147,34.3)(163,34.1)(173,34.3)(187,35)(200,36)(217,37)(233,37.6)(257,37.7)(277,37.9)(300,38.3)(330,39.2)(370,40.1)(400,39.9)(430,41.4)(463,42.1)(480,42.8)(510,43.3)(537,44.3)(557,45.2)(570,46.1)(607,49.2)(640,50.5)(680,49.9)(720,50)(760,50.3)(782,50.7)(810,51.9)(840,52.5)(862,54)(880,55.8)(895,57.3)(910,57.3)(925,55.1)(940,53.2)(960,51.8)(975,52.2)(1000,54)(1020,56.5)(1043,59.3)(1057,60.5)(1073,61.8)(1093,62.5)(1113,63.7)(1130,64.2)(1143,66.4)(1160,67.8)(1180,68.7)(1207,69.7)(1227,69.1)(1240,68)(1253,66.6)(1263,65.5)(1283,65.1)(1315,65.6)};
\addplot[bb] coordinates {(16,38.1)(33,37.8)(50,37.2)(62,36.1)(77,36.5)(97,36.6)(102,35.8)(105,34.8)(113,32.3)(123,31.4)(140,31)(153,31.5)(167,31.9)(177,31.6)(187,32.6)(200,33.3)(217,34.8)(230,36)(250,36.8)(277,36.9)(293,37.1)(313,37)(333,37.4)(353,38.2)(370,38.9)(387,38.7)(417,38.9)(447,39.6)(463,40.3)(487,41.8)(510,41.2)(530,41.4)(548,43)(583,44)(607,45.4)(638,46.9)(662,48.1)(686,48.1)(720,48.4)(755,49.1)(782,48)(803,49.4)(827,51.3)(848,51.6)(858,51.1)(872,51.3)(889,52.3)(913,52.2)(930,51.9)(948,51.6)(982,50.9)(1006,49.6)(1027,50.5)(1040,53.3)(1057,56.7)(1083,58.1)(1140,60.3)(1167,63.1)(1190,64)(1197,65.4)(1207,66.9)(1217,66.1)(1233,64.7)(1247,63.1)(1253,61.5)(1267,61.1)(1290,61.1)(1315,61.39)};
% candles: wicks, then bodies
\addplot[draw=none,no marks,error bars/.cd,y dir=plus,y explicit,error mark=none,error bar style={black,line width=.8pt}]
 table[x=x,y expr={\thisrow{c}>=\thisrow{o}?\thisrow{l}:nan},y error plus expr=\thisrow{h}-\thisrow{l}]{\candles};
\addplot[draw=none,no marks,error bars/.cd,y dir=plus,y explicit,error mark=none,error bar style={cred,line width=.8pt}]
 table[x=x,y expr={\thisrow{c}<\thisrow{o}?\thisrow{l}:nan},y error plus expr=\thisrow{h}-\thisrow{l}]{\candles};
\addplot[draw=none,no marks,error bars/.cd,y dir=plus,y explicit,error mark=none,error bar style={black,line width=3.3pt}]
 table[x=x,y expr={\thisrow{c}>=\thisrow{o}?\thisrow{o}:nan},y error plus expr=\thisrow{c}-\thisrow{o}]{\candles};
\addplot[draw=none,no marks,error bars/.cd,y dir=plus,y explicit,error mark=none,error bar style={white,line width=1.5pt}]
 table[x=x,y expr={\thisrow{c}>=\thisrow{o}?\thisrow{o}+0.06:nan},y error plus expr=\thisrow{c}-\thisrow{o}-0.12]{\candles};
\addplot[draw=none,no marks,error bars/.cd,y dir=plus,y explicit,error mark=none,error bar style={cred,line width=3.2pt}]
 table[x=x,y expr={\thisrow{c}<\thisrow{o}?\thisrow{c}:nan},y error plus expr=\thisrow{o}-\thisrow{c}]{\candles};
\end{axis}
% ---------- MACD
\begin{axis}[panel,at={(15.5pt,260pt)},height=121pt,ymin=-1608,ymax=2594,ytick={-1500,-1000,...,2500}]
\addplot[ybar,bar width=3.5pt,bar shift=0pt,fill=histb,draw=histd,line width=.4pt] table[x expr=16.5+3.5*\coordindex,y index=0]{\hist};
\addplot[cred,line width=1pt,no marks] coordinates {(16,-104)(37,-336)(58,-532)(77,-393)(95,-255)(107,-625)(116,-937)(128,-1099)(139,-1053)(160,-740)(179,-162)(195,301)(209,509)(223,497)(251,417)(279,382)(302,382)(320,567)(339,555)(362,417)(376,544)(409,451)(422,648)(436,798)(457,683)(478,474)(492,532)(511,798)(529,845)(546,764)(559,1030)(580,1111)(599,1226)(617,1458)(641,1342)(655,995)(669,590)(682,359)(696,301)(720,278)(728,185)(740,127)(756,150)(774,417)(786,764)(798,845)(816,798)(832,729)(842,729)(853,1053)(867,1192)(888,1342)(902,995)(923,185)(942,-336)(955,-532)(979,-659)(993,-104)(1007,590)(1025,1169)(1044,1400)(1065,1747)(1085,1423)(1104,1574)(1120,1978)(1141,1608)(1160,1978)(1174,2059)(1188,1886)(1206,1226)(1225,590)(1239,12)(1253,-625)(1267,-972)(1278,-798)(1292,-278)(1304,12)(1315,30)};
\addplot[black,line width=1.5pt,no marks] coordinates {(16,-197)(23,-359)(37,-486)(52,-602)(58,-544)(65,-393)(77,-255)(86,-185)(95,-393)(102,-683)(108,-1088)(116,-1412)(125,-1296)(132,-1122)(142,-856)(151,-740)(160,-451)(172,12)(183,359)(195,683)(204,683)(214,567)(223,474)(237,521)(251,382)(265,359)(283,428)(302,382)(312,648)(325,648)(339,555)(349,405)(364,359)(376,613)(390,555)(406,393)(420,764)(432,949)(446,798)(460,590)(474,359)(483,382)(501,764)(522,949)(534,798)(542,648)(550,937)(559,1226)(569,1134)(580,1226)(597,1261)(615,1631)(624,1400)(638,1169)(648,937)(657,474)(666,185)(673,197)(685,127)(696,278)(710,336)(720,220)(728,12)(740,127)(756,185)(765,474)(772,474)(786,1018)(798,879)(807,879)(826,590)(832,706)(842,706)(851,1261)(867,1319)(877,1284)(888,1435)(895,1111)(902,532)(911,127)(921,-162)(930,-336)(935,-359)(944,-683)(955,-659)(962,-845)(972,-683)(981,-451)(993,417)(1007,1111)(1018,1400)(1030,1539)(1040,1458)(1051,1840)(1062,1921)(1071,1458)(1079,1169)(1085,1342)(1095,1689)(1102,1747)(1113,2210)(1118,2152)(1127,1631)(1136,1261)(1146,1805)(1157,2360)(1164,2129)(1169,2233)(1176,1921)(1185,1574)(1195,1284)(1204,648)(1218,301)(1227,-127)(1239,-451)(1248,-1030)(1255,-1377)(1264,-1238)(1273,-683)(1283,12)(1295,417)(1303,301)(1315,-23)};
\end{axis}
% ---------- MACD histogram
\begin{axis}[panel,months,at={(15.5pt,14.3pt)},height=245.7pt,ymin=-752,ymax=745,ytick={-700,-600,...,700}]
\addplot[ybar,bar width=3.5pt,bar shift=0pt,fill=histb,draw=histd,line width=.4pt] table[x expr=16.5+3.5*\coordindex,y index=0]{\hist};
\end{axis}
% ---------- annotations in picture pixels
\begin{axis}[pxlay]
\addplot[hl] coordinates {(106,531)(1447,531)};
\addplot[hl] coordinates {(1222,604)(1456,604)};
\addplot[hl] coordinates {(106,752)(1447,752)};
\addplot[hl] coordinates {(106,820.7)(1447,820.7)};
\addplot[hl] coordinates {(106,888.7)(1447,888.7)};
\addplot[hl] coordinates {(106,1110)(1447,1110)};
\addplot[draw=black,line width=1.7pt,no marks,dash pattern=on 4pt off 2.6pt] coordinates {(745,837.7)(1390,837.7)};
\addplot[tlthick] coordinates {(110,1110)(1280,739)};
\addplot[tlthick] coordinates {(45,1037)(1168,588)};
\addplot[tlthin,dash pattern=on 3pt off 2pt] coordinates {(10,1015)(1112,640)};
\addplot[tlthin] coordinates {(110,1026)(572,887)};
\addplot[tlthin] coordinates {(923,808)(1168,517)};
\addplot[tlthin] coordinates {(963,835)(1243,576)};
\addplot[mag,line width=2pt,no marks] coordinates {(619,811)(775.5,845.7)};
\addplot[mag,line width=2pt,no marks] coordinates {(577.5,878)(733.5,860.7)};
\addplot[draw=black,line width=2pt,no marks,dash pattern=on 3pt off 1.5pt] coordinates {(755,812.7)(963,835)};
\addplot[draw=black,line width=2pt,no marks,dash pattern=on 3pt off 1.5pt] coordinates {(1068,683)(1280,672)};
\addplot[black,line width=1pt,no marks,-{Triangle[length=9pt,width=10pt]}] coordinates {(887.4,825)(887.4,718)};
\addplot[black,line width=1pt,no marks,-{Triangle[length=9pt,width=10pt]}] coordinates {(1161.7,680)(1161.7,533)};
% RSI arrows
\addplot[bigarrow,blue,dotted] coordinates {(21,195)(63,184)};
\addplot[bigarrow,red,dotted] coordinates {(420,91.7)(443,100)};
\addplot[bigarrow,red] coordinates {(555.7,85)(622,90)};
\addplot[bigarrow,red] coordinates {(848,96.7)(904.4,101)};
\addplot[bigarrow,blue] coordinates {(21,371.7)(63,350)};
\addplot[bigarrow,red] coordinates {(420,290)(445.7,313.3)};
\addplot[bigarrow,red] coordinates {(509.3,292.7)(534,300)};
\addplot[bigarrow,red] coordinates {(848,293)(899,301.7)};
\addplot[bigarrow,blue] coordinates {(899,367)(923,358)};
\addplot[bigarrow,red] coordinates {(1005,292.7)(1033.5,310)};
% small price labels
\lbl{80}{996}{38.2K}\lbl{44}{1048}{36.0K}\lbl{119}{1046}{34.6K}\lbl{108}{1118}{30.8K}
\lbl{373}{945}{42.1K}\lbl{397}{995}{39.9K}\lbl{615}{800}{52.6K}\lbl{654}{880}{48.2K}
\lbl{881}{708}{59.3K}\lbl{915}{757}{55.7K}\lbl{950}{778}{54.2K}\lbl{908}{836}{51.4K}
\lbl{961}{848}{50.6K}\lbl{1110}{578}{68.9K}\lbl{1061}{646}{63.8K}\lbl{1075}{729}{59.2K}
\lbl{1132}{687}{62.3K}\lbl{1175}{609}{68.0K}\lbl{1157}{522}{72.8K}\lbl{1182}{535}{72.0K}
\lbl{1225}{682}{62.7K}\lbl{1250}{713}{60.4K}\lbl{1288}{567}{69.6K}
% fibonacci labels
\fib{525}{0.0\%: 72889.64}\fib{746}{38.2\%: 56763.02}\fib{815}{50.0\%: 51779.37}\fib{883}{61.8\%: 46703.63}\fib{1104}{100.0\%: 30669.01}
% callouts
\fill[gray!60] (axis cs:1090,704) rectangle (axis cs:1241,766);
\node[draw=gray,fill=white,anchor=north west,inner sep=0pt,minimum width=151pt,minimum height=61pt] at (axis cs:1088,702) {};
\node[anchor=north west,inner sep=0pt,align=left,font=\fontsize{12.4}{14}\bfseries\selectfont] at (axis cs:1090,706) {28th Jul - H\&S has\\broken down with a\\target in the 52000 area\\- FAILED 13th August};
\fill[gray!60] (axis cs:801,860) rectangle (axis cs:1020,908);
\node[draw=gray,fill=white,anchor=north west,inner sep=0pt,minimum width=219pt,minimum height=48pt] at (axis cs:799,858) {};
\node[anchor=north west,inner sep=0pt,align=left,font=\fontsize{12.4}{14}\bfseries\selectfont] at (axis cs:801,862) {27th March - An H\&S has broken\\down with a target in the 43.2k area\\- FAILED 8th April};
\fill[gray!60] (axis cs:1214,76) rectangle (axis cs:1388,97);
\node[draw=gray,fill=white,anchor=north west,inner sep=0pt,minimum width=174pt,minimum height=21pt] at (axis cs:1212,74) {};
\node[anchor=west,inner sep=0pt,font=\fontsize{12.5}{14}\bfseries\selectfont] at (axis cs:1215,84.5) {\scalebox{0.94}[1]{NO CURRENT DIVERGENCE}};
\fill[gray!60] (axis cs:1214,277) rectangle (axis cs:1390,297);
\node[draw=gray,fill=white,anchor=north west,inner sep=0pt,minimum width=176pt,minimum height=20pt] at (axis cs:1212,275) {};
\node[anchor=west,inner sep=0pt,font=\fontsize{12.5}{14}\bfseries\selectfont] at (axis cs:1215,284.5) {\scalebox{0.94}[1]{NO CURRENT DIVERGENCE}};
% watermark
\node[anchor=west,inner sep=0pt,font=\serw\fontsize{12}{14}\selectfont] at (axis cs:957,932) {\addfontfeatures{LetterSpace=14.5}CHARTINGTHEMARKETS.SUBSTACK.COM};
\node[anchor=west,inner sep=0pt,font=\serw\itshape\bfseries\fontsize{11}{13}\selectfont] at (axis cs:982,957) {\addfontfeatures{LetterSpace=42}THROUGH A GLASS DARKLY};
% logo
\addplot[smooth,draw=ma5,line width=2pt,no marks] coordinates {(1298,926)(1278,923)(1260,930)(1253,942)(1258,954)(1272,961)(1288,961)};
\addplot[smooth,draw=ma5,line width=2.6pt,no marks,-{Triangle[length=11pt,width=12pt]}] coordinates {(1270,963)(1290,958)(1303,947)(1309,931)};
\addplot[ma5,line width=3pt,no marks] coordinates {(1264,938)(1264,950)};
\addplot[ma5,line width=3pt,no marks] coordinates {(1270,933)(1270,948)};
\addplot[ma5,line width=3pt,no marks] coordinates {(1276,935)(1276,945)};
\addplot[ma5,line width=3pt,no marks] coordinates {(1281,929)(1281,947)};
\addplot[ma5,line width=3pt,no marks] coordinates {(1287,932)(1287,942)};
\addplot[ma5,line width=3pt,no marks] coordinates {(1292,928)(1292,945)};
% header and panel titles
\node[anchor=west,inner sep=0pt,font=\fontsize{12}{13}\bfseries\selectfont] at (axis cs:15,8) {\$NIKK};
\node[anchor=west,inner sep=0pt,font=\fontsize{9.9}{11}\selectfont] at (axis cs:53,8) {Japan Stock Market Index (JP225)\ \ TSTYO};
\node[anchor=west,inner sep=0pt,font=\fontsize{9.8}{11}\selectfont] at (axis cs:15,21) {25-Aug-2026};
\node[anchor=east,inner sep=0pt,text=gray!80!black,font=\fontsize{9.6}{11}\selectfont] at (axis cs:1410,8) {\textcopyright\,StockCharts.com};
\node[anchor=east,inner sep=0pt,font=\fontsize{10.2}{11}\selectfont] at (axis cs:1410,21) {\textbf{Open} 65195.26\ \ \textbf{High} 65904.24\ \ \textbf{Low} 64609.47\ \ \textbf{Close} 65856.43\ \ \textbf{Chg} +328.34 (+0.50\%)\,{\djv\fontsize{7}{8}\selectfont ▲}};
\ico{22}{32.5}{rsig}\ico{22}{277.5}{rsig}\ico{22}{399}{rsig}\ico{22}{521}{black!70}\ico{22}{1267}{histb}\ico{22}{572}{gray}\ico{22}{581}{rsig}
\ttl{29}{32.5}{RSI(14) 48.19}
\ttl{29}{277.5}{RSI(5) 42.78}
\ttl{29}{399}{RSI(2) 48.60}
\ttl{29}{521}{\$NIKK (Daily) 65856.43}
\node[anchor=west,inner sep=0pt,text=ma5,font=\fontsize{8.6}{10}\selectfont] at (axis cs:18,531) {\rule[2pt]{9pt}{1.2pt}\,MA(50) 67381.41};
\node[anchor=west,inner sep=0pt,text=red,font=\fontsize{8.6}{10}\selectfont] at (axis cs:18,541.5) {\rule[2pt]{9pt}{1.2pt}\,MA(100) 64122.09};
\node[anchor=west,inner sep=0pt,text=ma2,font=\fontsize{8.6}{10}\selectfont] at (axis cs:18,552) {\rule[2pt]{9pt}{1.2pt}\,MA(200) 58400.75};
\node[anchor=west,inner sep=0pt,font=\fontsize{8.6}{10}\selectfont] at (axis cs:18,562.5) {\rule[2pt]{9pt}{1.2pt}\,BB(20,2.0) 61386.85 - 65623.66 - 69860.46};
\node[anchor=west,inner sep=0pt,text=gray!70!black,font=\fontsize{8.6}{10}\selectfont] at (axis cs:28,572) {Volume undef};
\node[anchor=west,inner sep=0pt,text=ma2,font=\fontsize{8.6}{10}\selectfont] at (axis cs:28,581) {\$SPX 7677.28};
\ttl{17}{1145.5}{\rule[2.5pt]{8pt}{1.2pt}\,MACD(12,26,9) -0.047{\color{red}, 30.107}{\color{histb}, -30.154}}
\ttl{29}{1267}{MACD(12,26,9) Hist -30.154}
\end{axis}
\end{tikzpicture}
\end{document}
